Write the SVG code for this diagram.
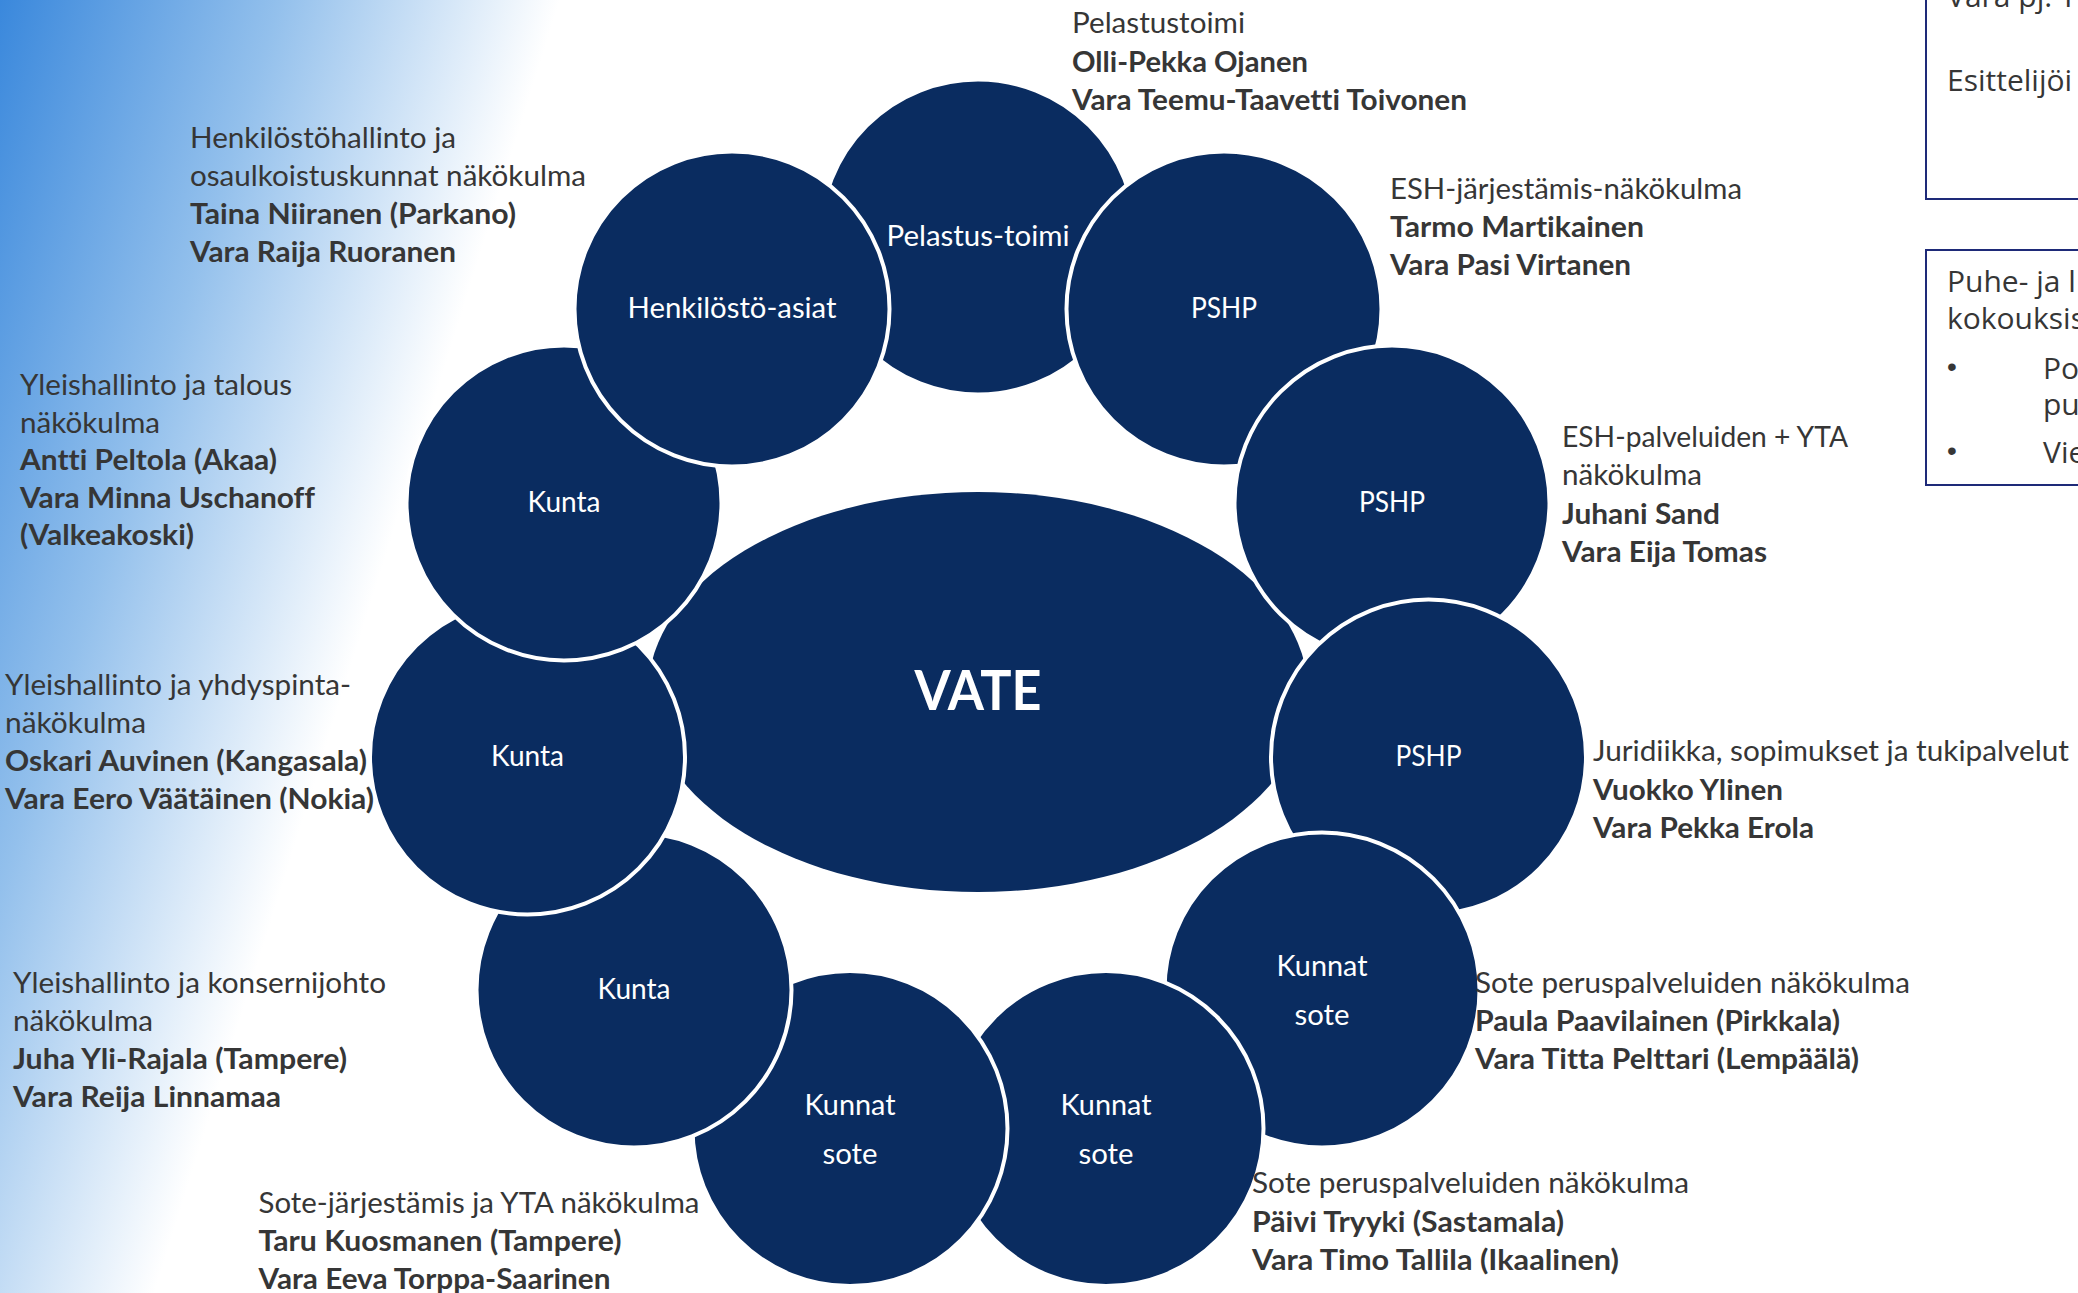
<svg xmlns="http://www.w3.org/2000/svg" width="2078" height="1293" viewBox="0 0 2078 1293">
  <defs>
    <linearGradient id="bg" gradientUnits="userSpaceOnUse" x1="0" y1="0" x2="510" y2="160">
      <stop offset="0" stop-color="#3A88DC"/>
      <stop offset="0.5" stop-color="#93C0EC"/>
      <stop offset="1" stop-color="#FFFFFF"/>
    </linearGradient>
  </defs>
  <style>
    text { font-variant-ligatures: none; font-feature-settings: "liga" 0, "clig" 0, "dlig" 0; }
    .node circle { fill: #0A2C60; stroke: #FFFFFF; stroke-width: 4; }
    .lbl { font-family: Lato, "Open Sans", "Liberation Sans", sans-serif; font-size: 28px; fill: #FFFFFF; text-anchor: middle; }
    .t { font-family: Lato, "Open Sans", "Liberation Sans", sans-serif; font-size: 28px; fill: #363636; }
    .b { font-weight: bold; }
    .box { fill: none; stroke: #1E2A78; stroke-width: 2; }
    .bt { font-family: "Open Sans", "Noto Sans", sans-serif; font-size: 30px; fill: #363636; }
    .bul { font-family: "Liberation Sans", Arial, sans-serif; font-size: 28px; fill: #363636; text-anchor: middle; }
  </style>

  <rect x="0" y="0" width="2078" height="1293" fill="url(#bg)"/>

  <g id="vate" class="node">
    <ellipse cx="978" cy="692" rx="330" ry="200" fill="#0A2C60"/>
    <text x="978" y="710" font-family="Lato, 'Open Sans', sans-serif" font-size="56" font-weight="bold" fill="#FFFFFF" text-anchor="middle" textLength="127" lengthAdjust="spacingAndGlyphs">VATE</text>
  </g>

  <g id="connectors"></g>

  <g id="node-pelastus" class="node">
    <circle cx="978" cy="237" r="157.5"/>
    <text class="lbl" x="978" y="246" textLength="183" lengthAdjust="spacingAndGlyphs">Pelastus-toimi</text>
  </g>
  <g id="node-pshp1" class="node">
    <circle cx="1224" cy="309" r="157.5"/>
    <text class="lbl" x="1224" y="318" textLength="66" lengthAdjust="spacingAndGlyphs">PSHP</text>
  </g>
  <g id="node-pshp2" class="node">
    <circle cx="1392" cy="503" r="157.5"/>
    <text class="lbl" x="1392" y="512" textLength="66" lengthAdjust="spacingAndGlyphs">PSHP</text>
  </g>
  <g id="node-pshp3" class="node">
    <circle cx="1428.5" cy="757" r="157.5"/>
    <text class="lbl" x="1428.5" y="766" textLength="66" lengthAdjust="spacingAndGlyphs">PSHP</text>
  </g>
  <g id="node-kunnatsote1" class="node">
    <circle cx="1322" cy="990" r="157.5"/>
    <text class="lbl" x="1322" y="976" textLength="91" lengthAdjust="spacingAndGlyphs">Kunnat</text>
    <text class="lbl" x="1322" y="1025" textLength="55" lengthAdjust="spacingAndGlyphs">sote</text>
  </g>
  <g id="node-kunnatsote2" class="node">
    <circle cx="1106" cy="1128.6" r="157.5"/>
    <text class="lbl" x="1106" y="1115" textLength="91" lengthAdjust="spacingAndGlyphs">Kunnat</text>
    <text class="lbl" x="1106" y="1164" textLength="55" lengthAdjust="spacingAndGlyphs">sote</text>
  </g>
  <g id="node-kunnatsote3" class="node">
    <circle cx="850" cy="1128.6" r="157.5"/>
    <text class="lbl" x="850" y="1115" textLength="91" lengthAdjust="spacingAndGlyphs">Kunnat</text>
    <text class="lbl" x="850" y="1164" textLength="55" lengthAdjust="spacingAndGlyphs">sote</text>
  </g>
  <g id="node-kunta1" class="node">
    <circle cx="634" cy="990" r="157.5"/>
    <text class="lbl" x="634" y="999" textLength="73" lengthAdjust="spacingAndGlyphs">Kunta</text>
  </g>
  <g id="node-kunta2" class="node">
    <circle cx="527.5" cy="757" r="157.5"/>
    <text class="lbl" x="527.5" y="766" textLength="73" lengthAdjust="spacingAndGlyphs">Kunta</text>
  </g>
  <g id="node-kunta3" class="node">
    <circle cx="564" cy="503" r="157.5"/>
    <text class="lbl" x="564" y="512" textLength="73" lengthAdjust="spacingAndGlyphs">Kunta</text>
  </g>
  <g id="node-henkilosto" class="node">
    <circle cx="732" cy="309" r="157.5"/>
    <text class="lbl" x="732" y="318" textLength="209" lengthAdjust="spacingAndGlyphs">Henkilöstö-asiat</text>
  </g>

  <g id="label-pelastustoimi">
    <text class="t" x="1072" y="33" textLength="173" lengthAdjust="spacingAndGlyphs">Pelastustoimi</text>
    <text class="t b" x="1072" y="71.5" textLength="236" lengthAdjust="spacingAndGlyphs">Olli-Pekka Ojanen</text>
    <text class="t b" x="1072" y="110" textLength="395" lengthAdjust="spacingAndGlyphs">Vara Teemu-Taavetti Toivonen</text>
  </g>
  <g id="label-henkilosto">
    <text class="t" x="190" y="147.5" textLength="266" lengthAdjust="spacingAndGlyphs">Henkilöstöhallinto ja</text>
    <text class="t" x="190" y="186" textLength="396" lengthAdjust="spacingAndGlyphs">osaulkoistuskunnat näkökulma</text>
    <text class="t b" x="190" y="224" textLength="326" lengthAdjust="spacingAndGlyphs">Taina Niiranen (Parkano)</text>
    <text class="t b" x="190" y="262" textLength="266" lengthAdjust="spacingAndGlyphs">Vara Raija Ruoranen</text>
  </g>
  <g id="label-esh-jarjestamis">
    <text class="t" x="1390" y="198.5" textLength="352" lengthAdjust="spacingAndGlyphs">ESH-järjestämis-näkökulma</text>
    <text class="t b" x="1390" y="236.5" textLength="254" lengthAdjust="spacingAndGlyphs">Tarmo Martikainen</text>
    <text class="t b" x="1390" y="274.5" textLength="241" lengthAdjust="spacingAndGlyphs">Vara Pasi Virtanen</text>
  </g>
  <g id="label-talous">
    <text class="t" x="20" y="395" textLength="272" lengthAdjust="spacingAndGlyphs">Yleishallinto ja talous</text>
    <text class="t" x="20" y="432.5" textLength="140" lengthAdjust="spacingAndGlyphs">näkökulma</text>
    <text class="t b" x="20" y="470" textLength="257" lengthAdjust="spacingAndGlyphs">Antti Peltola (Akaa)</text>
    <text class="t b" x="20" y="507.5" textLength="295" lengthAdjust="spacingAndGlyphs">Vara Minna Uschanoff</text>
    <text class="t b" x="20" y="545" textLength="174" lengthAdjust="spacingAndGlyphs">(Valkeakoski)</text>
  </g>
  <g id="label-esh-palveluiden">
    <text class="t" x="1562" y="447" textLength="286" lengthAdjust="spacingAndGlyphs">ESH-palveluiden + YTA</text>
    <text class="t" x="1562" y="485" textLength="140" lengthAdjust="spacingAndGlyphs">näkökulma</text>
    <text class="t b" x="1562" y="523.5" textLength="158" lengthAdjust="spacingAndGlyphs">Juhani Sand</text>
    <text class="t b" x="1562" y="562" textLength="205" lengthAdjust="spacingAndGlyphs">Vara Eija Tomas</text>
  </g>
  <g id="label-yhdyspinta">
    <text class="t" x="5" y="695" textLength="346" lengthAdjust="spacingAndGlyphs">Yleishallinto ja yhdyspinta-</text>
    <text class="t" x="5" y="733" textLength="141" lengthAdjust="spacingAndGlyphs">näkökulma</text>
    <text class="t b" x="5" y="771" textLength="362" lengthAdjust="spacingAndGlyphs">Oskari Auvinen (Kangasala)</text>
    <text class="t b" x="5" y="809" textLength="369" lengthAdjust="spacingAndGlyphs">Vara Eero Väätäinen (Nokia)</text>
  </g>
  <g id="label-juridiikka">
    <text class="t" x="1593" y="760.5" textLength="476" lengthAdjust="spacingAndGlyphs">Juridiikka, sopimukset ja tukipalvelut</text>
    <text class="t b" x="1593" y="800" textLength="190" lengthAdjust="spacingAndGlyphs">Vuokko Ylinen</text>
    <text class="t b" x="1593" y="838" textLength="221" lengthAdjust="spacingAndGlyphs">Vara Pekka Erola</text>
  </g>
  <g id="label-konsernijohto">
    <text class="t" x="13" y="993" textLength="373" lengthAdjust="spacingAndGlyphs">Yleishallinto ja konsernijohto</text>
    <text class="t" x="13" y="1031" textLength="140" lengthAdjust="spacingAndGlyphs">näkökulma</text>
    <text class="t b" x="13" y="1069" textLength="334" lengthAdjust="spacingAndGlyphs">Juha Yli-Rajala (Tampere)</text>
    <text class="t b" x="13" y="1107" textLength="268" lengthAdjust="spacingAndGlyphs">Vara Reija Linnamaa</text>
  </g>
  <g id="label-sote-perus-1">
    <text class="t" x="1475" y="993" textLength="435" lengthAdjust="spacingAndGlyphs">Sote peruspalveluiden näkökulma</text>
    <text class="t b" x="1475" y="1031" textLength="365" lengthAdjust="spacingAndGlyphs">Paula Paavilainen (Pirkkala)</text>
    <text class="t b" x="1475" y="1069" textLength="384" lengthAdjust="spacingAndGlyphs">Vara Titta Pelttari (Lempäälä)</text>
  </g>
  <g id="label-sote-jarjestamis">
    <text class="t" x="258.5" y="1212.5" textLength="441" lengthAdjust="spacingAndGlyphs">Sote-järjestämis ja YTA näkökulma</text>
    <text class="t b" x="258.5" y="1250.5" textLength="363" lengthAdjust="spacingAndGlyphs">Taru Kuosmanen (Tampere)</text>
    <text class="t b" x="258.5" y="1288.5" textLength="352" lengthAdjust="spacingAndGlyphs">Vara Eeva Torppa-Saarinen</text>
  </g>
  <g id="label-sote-perus-2">
    <text class="t" x="1252" y="1193" textLength="437" lengthAdjust="spacingAndGlyphs">Sote peruspalveluiden näkökulma</text>
    <text class="t b" x="1252" y="1231.5" textLength="312" lengthAdjust="spacingAndGlyphs">Päivi Tryyki (Sastamala)</text>
    <text class="t b" x="1252" y="1269.5" textLength="367" lengthAdjust="spacingAndGlyphs">Vara Timo Tallila (Ikaalinen)</text>
  </g>

  <g id="box-1">
    <rect class="box" x="1926" y="-10" width="200" height="209"/>
    <text class="bt" x="1947" y="7">Vara pj. T</text>
    <text class="bt" x="1947" y="90.5">Esittelijöi</text>
  </g>
  <g id="box-2">
    <rect class="box" x="1926" y="250" width="200" height="235"/>
    <text class="bt" x="1947" y="292">Puhe- ja l</text>
    <text class="bt" x="1947" y="329">kokouksis</text>
    <text class="bul" x="1952" y="376">•</text>
    <text class="bt" x="2043" y="379">Po</text>
    <text class="bt" x="2043" y="415">pu</text>
    <text class="bul" x="1952" y="460">•</text>
    <text class="bt" x="2043" y="463">Vie</text>
  </g>
</svg>
